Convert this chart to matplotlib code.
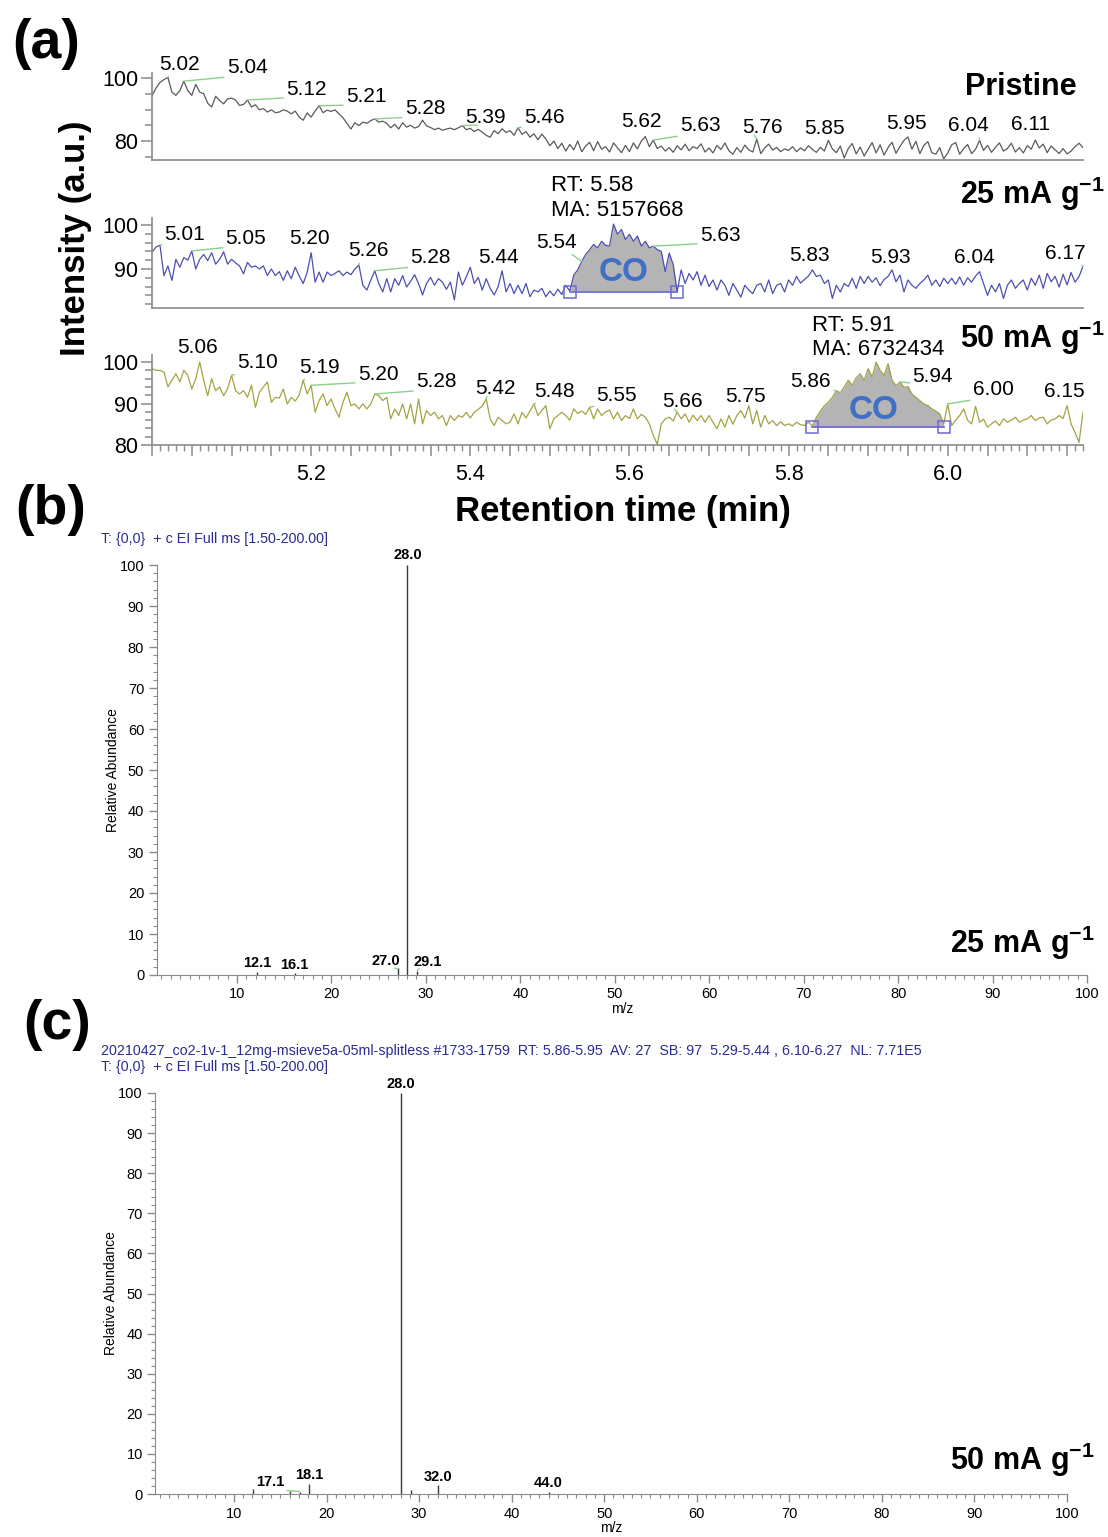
import numpy as np
import matplotlib
matplotlib.use("Agg")
import matplotlib.pyplot as plt
from matplotlib.ticker import MultipleLocator, FuncFormatter

plt.rcParams['font.family'] = ['Liberation Sans', 'DejaVu Sans']
plt.rcParams['mathtext.fontset'] = 'custom'
plt.rcParams['mathtext.rm'] = 'Liberation Sans'
plt.rcParams['mathtext.bf'] = 'Liberation Sans:bold'

# ---------------- GC chromatograms (scans every 0.005 min from 5.000 min) ----------------
SCAN_START = 5.0
SCAN_STEP = 0.005

pristine = [
    94.4, 96.8, 98.6, 99.5, 100.2, 95.5, 94.5, 96.0, 99.0, 96.0, 94.5, 98.0, 95.5, 95.0, 92.0, 90.8, 94.2, 92.9, 91.8, 93.4,
    93.6, 93.0, 91.3, 91.6, 93.0, 90.8, 91.5, 89.9, 90.3, 89.2, 89.9, 89.0, 89.2, 89.9, 89.5, 88.6, 89.5, 87.6, 86.6, 88.9,
    87.6, 89.5, 91.2, 89.0, 89.8, 89.4, 89.9, 88.6, 87.4, 85.6, 83.8, 85.8, 84.9, 86.0, 85.6, 86.5, 87.0, 86.0, 86.3, 85.6,
    84.2, 85.3, 83.8, 85.8, 84.4, 85.0, 84.1, 84.6, 86.6, 84.8, 84.3, 83.6, 84.1, 83.4, 83.8, 84.1, 83.6, 84.2, 84.9, 83.6,
    84.0, 83.0, 83.7, 82.8, 81.8, 81.2, 83.3, 82.3, 83.9, 82.7, 83.3, 81.8, 84.2, 82.1, 83.0, 81.2, 82.3, 80.4, 82.2, 80.6,
    78.5, 80.0, 77.6, 79.3, 76.8, 78.9, 77.2, 80.0, 76.6, 78.4, 79.6, 76.9, 79.8, 77.4, 78.2, 76.5, 79.4, 77.8, 76.3, 78.6,
    76.6, 79.4, 77.5, 80.0, 81.4, 78.2, 80.3, 77.6, 78.4, 76.8, 77.9, 76.4, 78.5, 77.2, 79.0, 76.9, 78.2, 77.6, 79.1, 76.5,
    77.8, 76.2, 78.6, 77.3, 79.4, 76.9, 75.8, 77.9, 76.4, 78.7, 77.2, 76.5, 80.6, 76.0, 77.8, 79.0, 77.1, 78.0, 76.6, 77.5,
    77.0, 78.2, 76.6, 77.8, 76.9, 78.5, 77.3, 76.4, 78.0, 76.8, 80.2, 77.5, 76.3, 78.4, 74.6, 77.6, 79.2, 75.9, 78.1, 75.2,
    77.4, 79.5, 76.2, 78.8, 75.5, 77.9, 79.6, 76.1, 78.3, 80.2, 81.3, 77.4, 79.9, 76.0, 78.6, 79.8, 76.3, 75.8, 77.9, 74.3,
    76.2, 78.8, 79.5, 75.8, 77.6, 78.9, 76.0, 77.4, 80.2, 77.0, 78.6, 76.4, 78.0, 79.4, 76.8, 77.6, 79.3, 76.5, 77.9, 76.2,
    78.5, 77.4, 80.3, 77.8, 79.0, 76.3, 78.4, 77.2, 76.0, 77.6, 75.9, 76.8, 78.2, 79.3, 77.9,
]

ma25 = [
    93.8, 95.0, 95.4, 88.5, 90.7, 87.4, 92.2, 90.4, 92.6, 92.0, 94.1, 90.0, 92.2, 93.3, 91.9, 93.7, 91.1, 92.2, 93.9, 91.1,
    92.2, 91.4, 90.7, 88.9, 91.5, 90.4, 90.7, 90.0, 90.7, 88.5, 90.0, 88.5, 89.4, 87.4, 89.6, 87.8, 90.4, 88.4, 86.7, 89.2,
    93.7, 87.0, 89.3, 87.0, 89.3, 88.5, 89.0, 89.6, 88.5, 89.3, 88.7, 90.0, 90.9, 86.3, 85.2, 87.5, 89.6, 86.7, 84.8, 87.8,
    84.8, 87.8, 86.3, 88.5, 85.9, 87.2, 88.7, 86.7, 84.1, 86.7, 88.1, 86.3, 87.8, 87.0, 85.4, 87.0, 83.0, 89.3, 86.3, 88.2,
    90.4, 86.7, 88.1, 85.2, 87.8, 85.6, 84.1, 86.0, 89.6, 84.8, 86.7, 84.4, 86.3, 84.4, 86.7, 83.7, 85.2, 84.8, 85.6, 83.7,
    85.0, 83.9, 85.4, 84.2, 86.3, 85.0, 88.6, 89.8, 91.7, 93.3, 94.4, 95.6, 94.8, 96.3, 95.4, 95.2, 100.2, 97.9, 99.0, 96.7,
    97.9, 96.3, 97.5, 95.2, 96.3, 94.8, 95.2, 94.4, 94.0, 89.4, 93.6, 91.0, 84.8, 89.8, 86.7, 89.0, 87.5, 89.4, 86.3, 88.6,
    86.0, 87.5, 85.2, 87.5, 86.3, 84.0, 86.7, 85.2, 83.6, 86.3, 85.2, 84.4, 86.3, 86.7, 84.8, 87.5, 84.4, 86.3, 86.7, 84.8,
    87.5, 86.3, 88.3, 86.8, 87.6, 88.4, 89.8, 88.3, 88.6, 86.7, 87.5, 83.3, 86.3, 84.8, 86.7, 86.0, 87.9, 85.6, 88.3, 86.7,
    88.3, 87.0, 88.0, 86.2, 87.6, 88.3, 89.8, 87.1, 88.6, 84.8, 87.5, 86.3, 85.6, 86.7, 87.5, 88.6, 86.3, 87.5, 86.0, 87.9,
    86.7, 87.9, 86.5, 88.2, 86.3, 88.0, 87.0, 88.4, 89.4, 86.7, 84.0, 86.3, 84.8, 86.7, 83.3, 86.3, 87.5, 85.6, 86.7, 87.5,
    85.2, 87.9, 86.3, 88.6, 85.6, 89.0, 87.1, 88.3, 85.9, 88.8, 86.4, 89.2, 87.0, 88.3, 90.6,
]

ma50 = [
    98.4, 98.0, 98.0, 97.6, 94.0, 95.6, 97.2, 95.2, 98.0, 96.8, 93.5, 96.0, 100.0, 95.6, 91.9, 96.0, 93.1, 94.0, 91.9, 93.6,
    96.8, 93.1, 92.3, 93.1, 91.5, 94.4, 89.1, 92.7, 94.0, 95.2, 90.3, 91.5, 91.3, 93.5, 89.9, 91.5, 90.6, 92.0, 95.6, 92.3,
    94.4, 87.9, 90.7, 92.3, 89.5, 91.1, 88.7, 86.7, 90.3, 92.7, 89.5, 89.9, 88.7, 89.9, 88.7, 89.9, 92.3, 91.9, 90.7, 91.5,
    86.3, 88.7, 87.1, 89.9, 86.3, 89.9, 85.1, 91.1, 85.1, 88.3, 87.1, 87.9, 86.3, 87.1, 84.7, 87.1, 85.9, 87.1, 86.7, 87.9,
    86.5, 87.9, 88.6, 89.4, 91.1, 86.3, 84.7, 86.7, 85.9, 85.1, 85.5, 87.5, 85.1, 87.9, 86.5, 88.2, 89.9, 87.1, 88.3, 89.5,
    83.9, 86.3, 87.1, 87.9, 87.1, 86.0, 88.7, 87.6, 88.2, 87.4, 89.1, 86.3, 88.7, 87.1, 88.0, 88.4, 86.3, 87.9, 85.9, 87.1,
    86.4, 88.7, 86.3, 87.4, 86.7, 85.1, 82.3, 80.2, 85.1, 86.3, 86.7, 85.8, 87.9, 86.3, 87.5, 85.5, 87.2, 85.9, 87.1, 85.5,
    87.1, 85.5, 83.9, 86.3, 84.3, 87.1, 85.0, 87.1, 88.3, 86.5, 89.5, 85.1, 88.3, 84.3, 87.1, 85.1, 85.9, 84.7, 85.6, 84.7,
    85.1, 84.6, 85.5, 84.9, 84.7, 85.5, 84.6, 86.7, 88.2, 89.5, 90.3, 91.5, 93.1, 92.6, 94.0, 95.6, 94.4, 96.2, 97.2, 95.6,
    98.4, 96.4, 100.0, 98.0, 96.8, 99.6, 95.6, 94.3, 95.2, 93.9, 94.1, 92.3, 91.5, 90.7, 89.9, 89.5, 88.7, 88.2, 87.5, 85.1,
    89.9, 84.7, 86.0, 87.1, 88.7, 86.0, 85.1, 89.3, 85.5, 86.2, 84.3, 85.1, 85.8, 84.7, 86.3, 85.5, 86.0, 86.7, 85.5, 86.0,
    86.3, 87.1, 85.9, 86.5, 86.7, 85.1, 86.0, 86.3, 87.1, 86.4, 89.5, 85.1, 83.0, 80.6, 87.9,
]

# labelled retention times (min)
pristine_rt = [5.02, 5.04, 5.12, 5.21, 5.28, 5.39, 5.46, 5.62, 5.63, 5.76, 5.85, 5.95, 6.04, 6.11]
ma25_rt = [5.01, 5.05, 5.20, 5.26, 5.28, 5.44, 5.54, 5.63, 5.83, 5.93, 6.04, 6.17]
ma50_rt = [5.06, 5.10, 5.19, 5.20, 5.28, 5.42, 5.48, 5.55, 5.66, 5.75, 5.86, 5.94, 6.00, 6.15]

# integrated CO peaks: (start, end, baseline, apex RT, area)
co_25 = (5.525, 5.660, 84.8, "5.58", "5157668")
co_50 = (5.830, 5.995, 84.3, "5.91", "6732434")

# label anchor positions (time, intensity)
pristine_lbl_t = [5.035, 5.1195, 5.194, 5.269, 5.343, 5.419, 5.493, 5.615, 5.689, 5.767, 5.845, 5.948, 6.026, 6.104]
pristine_lbl_v = [104.4, 103.2, 96.5, 94.0, 90.2, 87.6, 87.6, 86.3, 84.8, 84.4, 84.1, 85.7, 84.8, 85.1]
ma25_lbl_t = [5.0415, 5.118, 5.1975, 5.272, 5.35, 5.435, 5.508, 5.714, 5.826, 5.928, 6.034, 6.148]
ma25_lbl_v = [97.95, 97.0, 97.0, 94.1, 92.5, 92.7, 96.1, 97.7, 93.0, 92.5, 92.5, 93.6]
ma50_lbl_t = [5.0566, 5.133, 5.21, 5.284, 5.357, 5.431, 5.506, 5.584, 5.667, 5.746, 5.828, 5.981, 6.057, 6.146]
ma50_lbl_v = [103.4, 99.8, 98.8, 97.1, 95.2, 93.7, 93.0, 92.0, 90.6, 91.6, 95.4, 96.6, 93.3, 92.8]

# ---------------- mass spectra ----------------
mz_b = [12.1, 16.1, 27.0, 28.0, 29.1]
ab_b = [0.8, 0.6, 1.6, 100.0, 1.0]
mz_b_lbl = [12.12, 16.04, 25.78, 28.1, 30.2]
ab_b_lbl = [2.9, 2.4, 3.4, 102.4, 3.2]

mz_c = [12.1, 16.1, 17.1, 18.1, 28.0, 29.1, 32.0, 44.0]
ab_c = [1.3, 0.8, 0.6, 2.6, 100.0, 1.0, 2.2, 0.5]
labeled_c = [17.1, 18.1, 28.0, 32.0, 44.0]
mz_c_lbl = [13.9, 18.1, 28.04, 32.04, 43.9]
ab_c_lbl = [3.0, 4.7, 102.2, 4.2, 2.7]

header_b = "T: {0,0}  + c EI Full ms [1.50-200.00]"
header_c1 = ("20210427_co2-1v-1_12mg-msieve5a-05ml-splitless #1733-1759  RT: 5.86-5.95  AV: 27  "
             "SB: 97  5.29-5.44 , 6.10-6.27  NL: 7.71E5")
header_c2 = "T: {0,0}  + c EI Full ms [1.50-200.00]"

# ---------------- styling ----------------
GRAY = '#8a8a8a'
GREEN = '#8ccf8c'
NAVY = '#2b2b95'
BOX = '#6a6ad6'

fig = plt.figure(figsize=(11.08, 15.37), dpi=100)
W, H = 1108.0, 1537.0


def frac_rect(x0, y_top, x1, y_bot):
    return [x0 / W, 1 - y_bot / H, (x1 - x0) / W, (y_bot - y_top) / H]


def time_label(x, pos):
    # label only every 0.2 min, starting at 5.2
    if x > 5.1 and abs(x / 0.2 - round(x / 0.2)) < 1e-6:
        return f"{x:.1f}"
    return ""


def chrom_axes(rect, ylim, major, minor, show_x):
    ax = fig.add_axes(rect)
    ax.set_xlim(5.0, 6.17)
    ax.set_ylim(*ylim)
    ax.patch.set_alpha(0)
    for s in ('top', 'right'):
        ax.spines[s].set_visible(False)
    for s in ('left', 'bottom'):
        ax.spines[s].set_color(GRAY)
        ax.spines[s].set_linewidth(1.2)
    ax.yaxis.set_major_locator(MultipleLocator(major))
    ax.yaxis.set_minor_locator(MultipleLocator(minor))
    ax.tick_params(axis='y', which='major', length=8, width=1.1, color=GRAY, labelsize=15.5, pad=2)
    ax.tick_params(axis='y', which='minor', length=5, width=1.1, color=GRAY)
    if show_x:
        ax.xaxis.set_major_locator(MultipleLocator(0.05))
        ax.xaxis.set_minor_locator(MultipleLocator(0.01))
        ax.xaxis.set_major_formatter(FuncFormatter(time_label))
        ax.tick_params(axis='x', which='major', length=8, width=1.1, color=GRAY, labelsize=15.5, pad=6)
        ax.tick_params(axis='x', which='minor', length=4, width=1.0, color=GRAY)
    else:
        ax.tick_params(axis='x', which='both', bottom=False, labelbottom=False)
    return ax


def draw_trace(ax, values, color, rts, lbl_t, lbl_v, peak=None):
    t = SCAN_START + SCAN_STEP * np.arange(len(values))
    v = np.asarray(values)
    if peak is not None:
        t0, t1, base, rt, area = peak
        m = (t >= t0 - 1e-9) & (t <= t1 + 1e-9)
        ax.fill_between(t[m], v[m], base, color='#b4b4b4', lw=0, zorder=1)
    ax.plot(t, v, color=color, lw=0.9, zorder=2)
    if peak is not None:
        ax.plot([t0, t1], [base, base], color=BOX, lw=1.2, zorder=3)
        ax.plot([t0, t1], [base, base], 's', ms=8, mfc='none', mec=BOX, mew=1.1, zorder=3)
    for rt_i, lt, lv in zip(rts, lbl_t, lbl_v):
        py = np.interp(rt_i, t, v)
        dt = lt - rt_i
        if abs(dt) > 0.0065:
            rel = (0.3, 0.08) if dt > 0 else (0.75, 0.08)
            ax.annotate(f"{rt_i:.2f}", xy=(rt_i, py), xytext=(lt, lv), fontsize=15,
                        ha='center', va='center', annotation_clip=False, zorder=4,
                        arrowprops=dict(arrowstyle='-', color=GREEN, lw=1.0,
                                        shrinkA=0, shrinkB=0, relpos=rel))
        else:
            ax.text(lt, lv, f"{rt_i:.2f}", fontsize=15, ha='center', va='center', zorder=4)
    return t, v


# panel (a)
ax1 = chrom_axes(frac_rect(152, 73.3, 1083, 159.9), (74, 101.5), 20, 5, False)
draw_trace(ax1, pristine, '#5a5a5a', pristine_rt, pristine_lbl_t, pristine_lbl_v)

ax2 = chrom_axes(frac_rect(152, 218.4, 1083, 307.7), (81.2, 101.5), 10, 2, False)
draw_trace(ax2, ma25, '#4e4eb0', ma25_rt, ma25_lbl_t, ma25_lbl_v, co_25)
ax2.text(5.502, 108.9, f"RT: {co_25[3]}", fontsize=16, ha='left', va='center')
ax2.text(5.502, 103.2, f"MA: {co_25[4]}", fontsize=16, ha='left', va='center')
ax2.text(5.5925, 89.1, "CO", fontsize=24, fontweight='bold', color='#3f70c6', ha='center', va='center', zorder=5)

ax3 = chrom_axes(frac_rect(152, 355, 1083, 445), (80, 101.7), 10, 2, True)
draw_trace(ax3, ma50, '#a3a345', ma50_rt, ma50_lbl_t, ma50_lbl_v, co_50)
ax3.text(5.829, 108.9, f"RT: {co_50[3]}", fontsize=16, ha='left', va='center')
ax3.text(5.829, 103.1, f"MA: {co_50[4]}", fontsize=16, ha='left', va='center')
ax3.text(5.907, 88.2, "CO", fontsize=24, fontweight='bold', color='#3f70c6', ha='center', va='center', zorder=5)

fig.text(1077 / W, 1 - 87 / H, "Pristine", fontsize=22, fontweight='bold', ha='right', va='center')
fig.text(1105 / W, 1 - 194 / H, r"25 mA g$^{\mathbf{-1}}$", fontsize=22, fontweight='bold', ha='right', va='center')
fig.text(1105 / W, 1 - 338 / H, r"50 mA g$^{\mathbf{-1}}$", fontsize=22, fontweight='bold', ha='right', va='center')
fig.text(75 / W, 1 - 238 / H, "Intensity (a.u.)", fontsize=25, fontweight='bold', rotation=90, ha='center', va='center')
fig.text(623 / W, 1 - 511 / H, "Retention time (min)", fontsize=25, fontweight='bold', ha='center', va='center')


# panels (b), (c)
def spectrum_axes(rect):
    ax = fig.add_axes(rect)
    ax.set_xlim(1.5, 100)
    ax.set_ylim(0, 100)
    for s in ('top', 'right'):
        ax.spines[s].set_visible(False)
    for s in ('left', 'bottom'):
        ax.spines[s].set_color(GRAY)
    ax.xaxis.set_major_locator(MultipleLocator(10))
    ax.xaxis.set_minor_locator(MultipleLocator(1))
    ax.yaxis.set_major_locator(MultipleLocator(10))
    ax.yaxis.set_minor_locator(MultipleLocator(2))
    ax.tick_params(which='major', length=6, width=1, color=GRAY, labelsize=10.5, pad=3)
    ax.tick_params(which='minor', length=3, width=0.8, color=GRAY)
    ax.set_xlabel("m/z", fontsize=10, labelpad=0.5)
    ax.set_ylabel("Relative Abundance", fontsize=10, labelpad=0)
    return ax


axb = spectrum_axes(frac_rect(156.7, 565, 1087, 975))
axb.vlines(mz_b, 0, ab_b, color='#3a3a3a', lw=1.0)
for mz, ab, lx, ly in zip(mz_b, ab_b, mz_b_lbl, ab_b_lbl):
    if abs(lx - mz) > 0.6:
        axb.annotate(f"{mz:.1f}", xy=(mz, ab), xytext=(lx, ly), fontsize=10.5, fontweight='bold',
                     ha='center', va='center', annotation_clip=False,
                     arrowprops=dict(arrowstyle='-', color=GREEN, lw=1.0, shrinkA=0, shrinkB=0,
                                     relpos=(0.8 if lx < mz else 0.2, 0.0),
                                     connectionstyle='arc3,rad=0.3'))
    else:
        axb.text(lx, ly, f"{mz:.1f}", fontsize=10.5, fontweight='bold', ha='center', va='center')

axc = spectrum_axes(frac_rect(155.3, 1093, 1067, 1494))
axc.vlines(mz_c, 0, ab_c, color='#3a3a3a', lw=1.0)
for mz, lx, ly in zip(labeled_c, mz_c_lbl, ab_c_lbl):
    ab = ab_c[mz_c.index(mz)]
    if abs(lx - mz) > 0.6:
        axc.annotate(f"{mz:.1f}", xy=(mz, ab), xytext=(lx, ly), fontsize=10.5, fontweight='bold',
                     ha='center', va='center', annotation_clip=False,
                     arrowprops=dict(arrowstyle='-', color=GREEN, lw=1.0, shrinkA=0, shrinkB=0,
                                     relpos=(0.5, 0.0)))
    else:
        axc.text(lx, ly, f"{mz:.1f}", fontsize=10.5, fontweight='bold', ha='center', va='center')

fig.text(101 / W, 1 - 539 / H, header_b, fontsize=10.3, color=NAVY, ha='left', va='center')
fig.text(101 / W, 1 - 1051 / H, header_c1, fontsize=10.3, color=NAVY, ha='left', va='center')
fig.text(101 / W, 1 - 1067 / H, header_c2, fontsize=10.3, color=NAVY, ha='left', va='center')

fig.text(1095 / W, 1 - 943 / H, r"25 mA g$^{\mathbf{-1}}$", fontsize=22, fontweight='bold', ha='right', va='center')
fig.text(1095 / W, 1 - 1460 / H, r"50 mA g$^{\mathbf{-1}}$", fontsize=22, fontweight='bold', ha='right', va='center')

fig.text(46 / W, 1 - 44 / H, "(a)", fontsize=40, fontweight='bold', ha='center', va='center')
fig.text(51 / W, 1 - 510 / H, "(b)", fontsize=40, fontweight='bold', ha='center', va='center')
fig.text(57 / W, 1 - 1025 / H, "(c)", fontsize=40, fontweight='bold', ha='center', va='center')

fig.savefig("out.png", dpi=100)
